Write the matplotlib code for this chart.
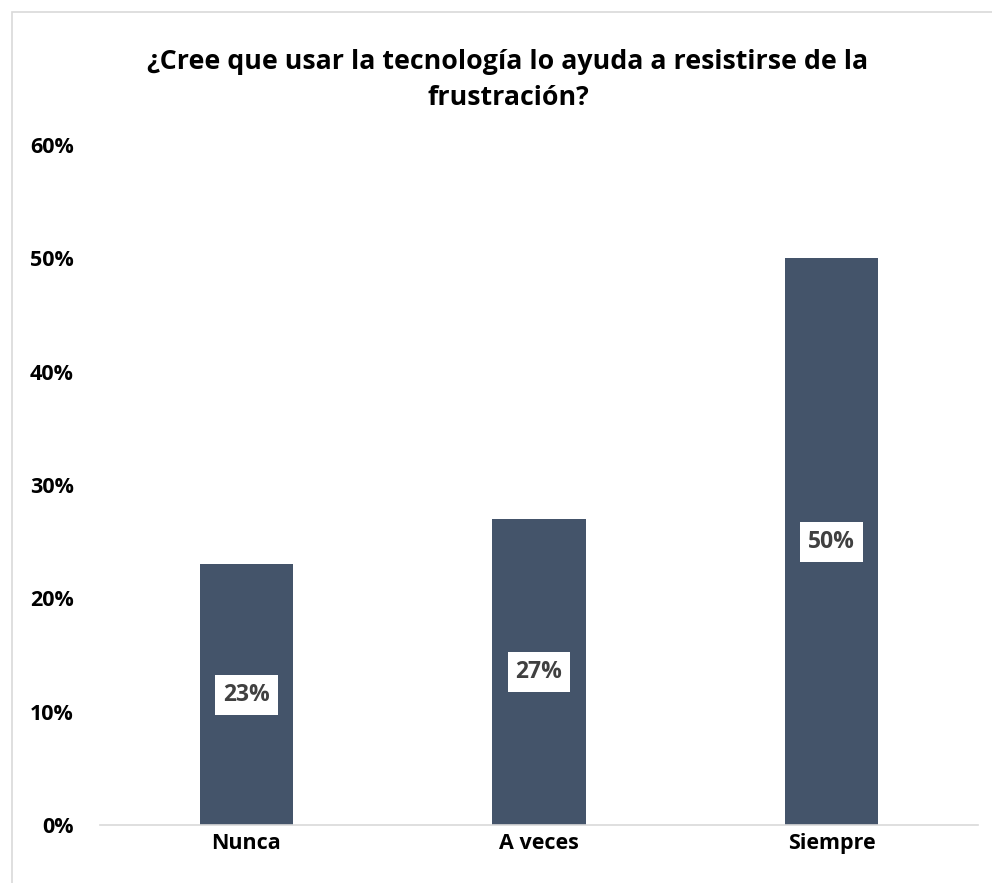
import matplotlib.pyplot as plt
from matplotlib.patches import Rectangle

categories = ['Nunca', 'A veces', 'Siempre']
values = [23, 27, 50]
y_ticks = [0, 10, 20, 30, 40, 50, 60]

W, H = 992, 883
BAR_COLOR = '#44546a'

plt.rcParams['font.family'] = ['Open Sans', 'DejaVu Sans']

fig = plt.figure(figsize=(W / 100, H / 100), dpi=100)
ax = fig.add_axes([100 / W, (H - 825) / H, (978 - 100) / W, (825 - 145) / H])

# chart border (cropped at right and bottom in the reference)
fig.patches.append(Rectangle((12 / W, -0.1), 1.2, 1.1 - 12 / H,
                             transform=fig.transFigure, fill=False,
                             edgecolor='#d9d9d9', linewidth=1.2))

x = range(len(categories))
bars = ax.bar(x, values, width=0.32, color=BAR_COLOR, zorder=2)

for b, v in zip(bars, values):
    ax.text(b.get_x() + b.get_width() / 2, v / 2, f'{v}%',
            ha='center', va='center', fontsize=16.5, fontweight='bold',
            color='#404040', zorder=3,
            bbox=dict(boxstyle='square,pad=0.35', facecolor='white', edgecolor='none'))

ax.set_xlim(-0.5, 2.5)
ax.set_ylim(0, 60)
ax.set_yticks(y_ticks)
ax.set_yticklabels([f'{t}%' for t in y_ticks])
ax.set_xticks(list(x))
ax.set_xticklabels(categories)

for s in ['top', 'right', 'left']:
    ax.spines[s].set_visible(False)
ax.spines['bottom'].set_color('#d9d9d9')
ax.spines['bottom'].set_linewidth(1.2)
ax.tick_params(axis='both', length=0, labelsize=15.5)
ax.tick_params(axis='y', pad=19)
ax.tick_params(axis='x', pad=6)
for lbl in ax.get_xticklabels() + ax.get_yticklabels():
    lbl.set_fontweight('bold')
    lbl.set_color('black')

fig.text(508 / W, 1 - 80 / H, '¿Cree que usar la tecnología lo ayuda a resistirse de la\nfrustración?',
         ha='center', va='center', fontsize=19.3, fontweight='bold', linespacing=1.5)

fig.savefig('out.png', dpi=100)
